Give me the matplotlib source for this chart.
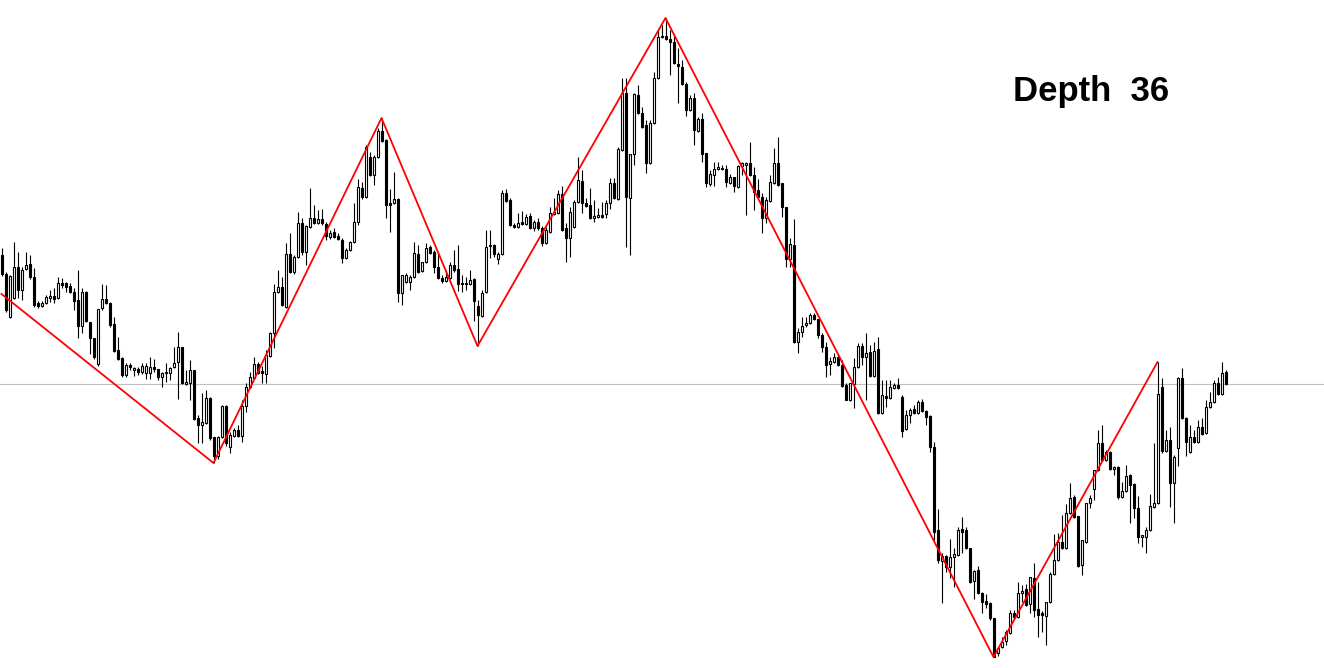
import numpy as np
import matplotlib
matplotlib.use("Agg")
import matplotlib.pyplot as plt

# OHLC in points, one entry per bar
opens = [
    745, 726, 683, 702, 733, 710, 731, 736, 723, 697,
    694, 697, 702, 704, 702, 717, 717, 714, 708, 700,
    674, 708, 678, 662, 636, 692, 701, 697, 676, 650,
    642, 625, 635, 630, 631, 628, 627, 627, 633, 631,
    623, 627, 627, 633, 638, 653, 616, 617, 630, 582,
    575, 577, 602, 563, 544, 563, 594, 553, 564, 570,
    564, 594, 613, 622, 636, 629, 626, 644, 667, 708,
    713, 693, 746, 728, 743, 777, 748, 773, 782, 777,
    781, 776, 763, 768, 764, 760, 742, 750, 758, 778,
    812, 803, 843, 825, 843, 869, 860, 797, 797, 801,
    707, 718, 718, 723, 746, 729, 738, 753, 748, 733,
    722, 719, 722, 735, 731, 717, 716, 716, 721, 694,
    684, 708, 754, 755, 741, 746, 807, 800, 775, 773,
    778, 776, 784, 772, 778, 772, 757, 768, 786, 787,
    806, 772, 762, 773, 798, 819, 797, 795, 782, 783,
    785, 786, 797, 817, 801, 850, 907, 802, 846, 905,
    887, 875, 837, 877, 922, 963, 964, 961, 958, 936,
    933, 916, 890, 902, 869, 881, 847, 816, 825, 831,
    832, 831, 817, 823, 813, 834, 835, 837, 825, 810,
    803, 782, 799, 817, 837, 817, 793, 741, 755, 658,
    668, 675, 677, 685, 681, 665, 653, 636, 638, 643,
    635, 615, 600, 616, 633, 654, 643, 648, 624, 651,
    587, 604, 602, 612, 615, 603, 571, 585, 591, 587,
    598, 589, 584, 553, 470, 439, 444, 433, 443, 445,
    471, 470, 452, 419, 430, 407, 399, 397, 382, 347,
    353, 359, 367, 387, 383, 407, 411, 396, 422, 391,
    387, 384, 398, 426, 440, 458, 452, 487, 503, 484,
    435, 458, 497, 511, 530, 557, 540, 548, 531, 533,
    503, 509, 525, 516, 492, 463, 463, 470, 493, 497,
    613, 549, 560, 517, 552, 622, 582, 548, 563, 558,
    573, 567, 593, 598, 617, 606, 628,
]
highs = [
    752, 728, 725, 758, 748, 733, 748, 745, 732, 699,
    699, 705, 710, 712, 723, 722, 718, 717, 712, 730,
    712, 709, 678, 662, 691, 716, 715, 698, 683, 663,
    643, 637, 637, 633, 633, 637, 637, 643, 641, 631,
    628, 637, 633, 653, 668, 653, 630, 640, 630, 585,
    607, 610, 603, 563, 564, 595, 595, 568, 572, 575,
    600, 617, 628, 643, 638, 634, 650, 668, 716, 730,
    723, 757, 767, 745, 788, 782, 775, 812, 795, 790,
    791, 778, 770, 772, 767, 762, 752, 759, 797, 821,
    818, 855, 848, 845, 872, 882, 861, 811, 828, 802,
    725, 727, 725, 758, 755, 738, 757, 755, 750, 747,
    725, 730, 738, 750, 755, 725, 723, 730, 722, 700,
    710, 770, 770, 756, 748, 810, 811, 802, 777, 787,
    789, 786, 787, 780, 782, 774, 773, 793, 802, 810,
    814, 777, 793, 800, 843, 830, 802, 812, 800, 792,
    798, 800, 822, 822, 853, 922, 922, 846, 907, 915,
    893, 880, 880, 928, 970, 975, 982, 970, 965, 952,
    940, 918, 905, 907, 883, 887, 847, 830, 838, 838,
    835, 835, 826, 823, 835, 838, 838, 858, 833, 821,
    807, 803, 825, 852, 863, 817, 793, 762, 781, 672,
    683, 683, 687, 687, 681, 667, 658, 643, 647, 646,
    640, 617, 617, 642, 657, 657, 667, 655, 658, 663,
    620, 620, 620, 617, 622, 605, 590, 592, 595, 600,
    601, 590, 585, 558, 491, 447, 445, 461, 452, 473,
    483, 473, 452, 430, 434, 408, 406, 398, 382, 353,
    363, 370, 390, 390, 418, 415, 416, 423, 437, 418,
    389, 398, 428, 466, 467, 485, 496, 517, 505, 484,
    460, 497, 505, 530, 570, 575, 550, 549, 534, 534,
    518, 535, 526, 517, 504, 465, 473, 506, 557, 638,
    622, 570, 573, 545, 623, 632, 583, 575, 570, 580,
    582, 600, 608, 620, 623, 638, 630,
]
lows = [
    724, 688, 682, 701, 702, 700, 730, 721, 693, 692,
    693, 696, 698, 697, 701, 712, 708, 707, 690, 662,
    667, 678, 646, 641, 634, 690, 696, 673, 648, 640,
    623, 623, 630, 624, 625, 626, 621, 621, 628, 620,
    613, 618, 620, 632, 601, 616, 615, 600, 580, 557,
    557, 576, 560, 537, 541, 562, 554, 547, 563, 563,
    558, 588, 612, 621, 626, 617, 617, 643, 652, 707,
    694, 692, 727, 726, 742, 745, 735, 772, 776, 776,
    775, 760, 761, 762, 760, 737, 741, 749, 757, 775,
    801, 802, 824, 815, 842, 858, 782, 768, 796, 698,
    695, 717, 710, 722, 727, 728, 737, 746, 727, 721,
    717, 718, 721, 728, 709, 708, 710, 715, 679, 654,
    683, 707, 742, 743, 736, 745, 798, 774, 772, 772,
    775, 775, 771, 769, 770, 754, 756, 767, 785, 786,
    769, 738, 743, 772, 797, 787, 793, 781, 778, 782,
    782, 782, 791, 801, 800, 849, 753, 745, 835, 886,
    872, 827, 836, 876, 921, 962, 960, 925, 936, 897,
    915, 884, 889, 855, 868, 838, 813, 814, 814, 830,
    830, 813, 816, 808, 812, 825, 785, 824, 790, 802,
    767, 777, 798, 816, 814, 783, 733, 733, 657, 647,
    663, 673, 676, 680, 662, 648, 623, 625, 637, 634,
    613, 600, 599, 592, 632, 635, 600, 623, 623, 586,
    586, 593, 601, 611, 611, 563, 570, 577, 586, 586,
    588, 575, 548, 460, 437, 397, 428, 422, 413, 444,
    447, 451, 417, 401, 406, 387, 392, 380, 343, 344,
    352, 355, 366, 382, 382, 398, 394, 387, 383, 363,
    368, 355, 397, 425, 439, 451, 451, 486, 482, 433,
    425, 457, 492, 500, 529, 539, 539, 530, 525, 501,
    502, 508, 477, 482, 457, 453, 447, 469, 492, 496,
    547, 548, 493, 477, 534, 581, 544, 547, 557, 557,
    565, 566, 592, 597, 605, 605, 615,
]
closes = [
    726, 690, 724, 733, 710, 730, 735, 723, 695, 694,
    697, 703, 704, 701, 717, 715, 713, 708, 699, 674,
    708, 679, 662, 643, 691, 701, 697, 675, 649, 641,
    625, 635, 633, 632, 628, 634, 634, 633, 631, 623,
    627, 628, 632, 637, 653, 617, 618, 630, 581, 575,
    578, 602, 562, 544, 563, 594, 557, 565, 570, 564,
    594, 613, 623, 636, 627, 627, 645, 667, 708, 713,
    695, 746, 728, 743, 777, 748, 774, 782, 777, 781,
    777, 764, 767, 763, 761, 742, 750, 758, 778, 813,
    803, 853, 825, 843, 869, 859, 795, 795, 801, 707,
    725, 725, 723, 747, 728, 738, 752, 747, 733, 722,
    719, 723, 735, 730, 716, 716, 717, 720, 699, 685,
    707, 753, 755, 746, 746, 807, 799, 775, 773, 777,
    776, 783, 772, 778, 772, 757, 770, 787, 788, 806,
    770, 762, 788, 798, 820, 797, 794, 782, 784, 785,
    783, 797, 817, 802, 851, 907, 803, 846, 906, 887,
    873, 837, 877, 922, 963, 964, 961, 958, 937, 934,
    916, 890, 902, 870, 881, 846, 817, 826, 831, 833,
    831, 818, 823, 814, 834, 837, 837, 825, 808, 803,
    782, 800, 818, 837, 815, 793, 741, 756, 658, 668,
    674, 677, 685, 681, 665, 653, 635, 639, 643, 635,
    614, 600, 617, 633, 654, 643, 647, 624, 649, 587,
    605, 602, 613, 615, 612, 569, 585, 590, 587, 598,
    589, 583, 553, 468, 440, 444, 433, 443, 446, 470,
    468, 452, 418, 429, 407, 398, 396, 382, 343, 352,
    358, 368, 387, 383, 407, 409, 395, 423, 390, 385,
    385, 398, 426, 440, 458, 452, 487, 502, 483, 434,
    460, 497, 502, 530, 557, 540, 548, 531, 533, 503,
    509, 524, 515, 492, 463, 465, 470, 494, 497, 606,
    549, 560, 517, 543, 622, 582, 558, 563, 558, 573,
    566, 593, 598, 617, 606, 627, 616,
]

# zigzag pivots (bar index); first point is where the line enters the window
zz_index = [0, 53, 95, 119, 166, 248, 289]
zz_first = 706
bid_level = 616
depth = 36

o = np.array(opens)
h = np.array(highs)
l = np.array(lows)
c = np.array(closes)
n = len(o)
idx = np.arange(n)
up = c >= o

fig = plt.figure(figsize=(13.24, 6.68), dpi=100)
ax = fig.add_axes([0, 0, 1, 1])
ax.set_axis_off()

ax.axhline(bid_level, color="#c0c0c0", lw=0.8, zorder=1)
ax.vlines(idx, l, h, color="black", lw=0.8, zorder=2)

body_lo = np.minimum(o, c)
body_h = np.abs(c - o)
ax.bar(idx[up], body_h[up], bottom=body_lo[up], width=0.5,
       color="white", edgecolor="black", linewidth=0.8, zorder=3)
ax.bar(idx[~up], body_h[~up], bottom=body_lo[~up], width=0.5,
       color="black", edgecolor="black", linewidth=0.8, zorder=3)

zz_vals = [zz_first, l[53], h[95], l[119], h[166], l[248], h[289]]
ax.plot(zz_index, zz_vals, color="#ff0000", lw=1.3, zorder=4)

ax.set_xlim(-0.375, -0.375 + 1324 / 4)
ax.set_ylim(332, 1000)

fig.text(1013 / 1324, 1 - 91 / 668, f"Depth  {depth}", fontsize=25,
         fontweight="bold", family="Liberation Sans", va="center", ha="left")

fig.savefig("out.png", dpi=100)
